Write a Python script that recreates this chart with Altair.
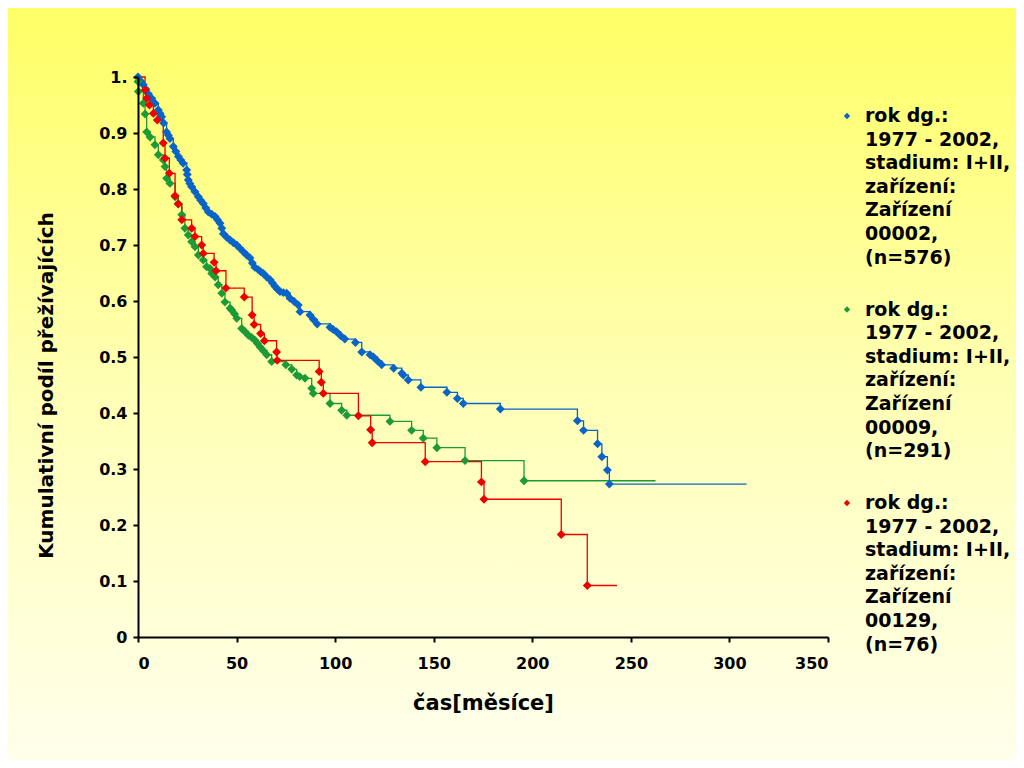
import altair as alt
import pandas as pd

series_names = [
    "\u00a0rok dg.:|1977 - 2002,|stadium: I+II,|zařízení:|Zařízení|00002,|(n=576)",
    "\u00a0rok dg.:|1977 - 2002,|stadium: I+II,|zařízení:|Zařízení|00009,|(n=291)",
    "\u00a0rok dg.:|1977 - 2002,|stadium: I+II,|zařízení:|Zařízení|00129,|(n=76)",
]
colors = ["#0A64C8", "#1C9A38", "#EE0000"]

x_ticks = [0, 50, 100, 150, 200, 250, 300, 350]
y_ticks = [0, 0.1, 0.2, 0.3, 0.4, 0.5, 0.6, 0.7, 0.8, 0.9, 1.0]

# series 1 (blue, Zařízení 00002) – event times [months] and survival
blue_t = [0, 1.3, 2.7, 4.0, 5.2, 6.9, 8.6, 10.3, 11.2, 12.0, 13.0, 14.5, 15.4, 16.2, 17.9,
          19.2, 20.5, 21.7, 22.9, 24.7, 25.0, 25.5, 26.3, 27.2, 28.9, 30.6, 31.8, 33.1,
          34.4, 35.7, 37.4, 39.1, 40.3, 41.6, 42.5, 43.3, 45.0, 46.7, 48.4, 50.1, 51.7,
          53.4, 55.1, 56.8, 58.0, 59.3, 61.0, 62.3, 63.6, 65.3, 67.0, 68.2, 69.5, 70.8,
          72.0, 73.7, 75.4, 77.1, 79.2, 81.3, 82.2, 87.2, 89.0, 90.9, 97.4, 99.0, 100.7,
          102.8, 104.9, 110.3, 113.5, 117.7, 119.4, 121.5, 123.6, 129.7, 133.8, 134.6,
          137.1, 143.5, 156.7, 162.0, 165.0, 183.8, 222.9, 226.0, 233.1, 235.3, 238.1, 239.1]
blue_s = [1.0, 0.993, 0.986, 0.978, 0.970, 0.962, 0.953, 0.941, 0.935, 0.929, 0.918, 0.902,
          0.896, 0.890, 0.876, 0.867, 0.858, 0.852, 0.846, 0.834, 0.826, 0.816, 0.810, 0.804,
          0.795, 0.786, 0.780, 0.774, 0.766, 0.759, 0.755, 0.751, 0.745, 0.739, 0.730, 0.720,
          0.714, 0.709, 0.704, 0.700, 0.694, 0.688, 0.682, 0.677, 0.668, 0.660, 0.656, 0.652,
          0.649, 0.643, 0.638, 0.632, 0.626, 0.621, 0.617, 0.615, 0.614, 0.605, 0.599, 0.593,
          0.581, 0.575, 0.567, 0.559, 0.553, 0.549, 0.545, 0.538, 0.532, 0.526, 0.509, 0.504,
          0.500, 0.493, 0.486, 0.480, 0.471, 0.468, 0.459, 0.446, 0.437, 0.426, 0.417, 0.407,
          0.386, 0.369, 0.345, 0.322, 0.298, 0.273]
blue_end = 308.7

# series 2 (green, Zařízení 00009)
green_t = [0, 0.2, 2.7, 3.6, 4.4, 6.1, 8.6, 10.3, 12.8, 13.7, 14.5, 16.2, 18.8, 20.4, 22.2,
           23.8, 25.5, 27.2, 28.9, 30.6, 33.1, 34.8, 36.5, 37.4, 39.1, 40.7, 42.5, 44.1,
           46.7, 47.5, 49.0, 50.1, 52.6, 54.3, 56.0, 57.6, 59.3, 60.6, 61.9, 63.6, 65.3,
           67.8, 75.0, 78.0, 80.5, 82.0, 84.7, 88.1, 88.9, 97.4, 103.3, 105.9, 127.8, 138.8,
           144.7, 151.6, 165.9, 195.8]
green_s = [0.992, 0.974, 0.953, 0.934, 0.902, 0.893, 0.879, 0.861, 0.852, 0.840, 0.819, 0.810,
           0.786, 0.774, 0.754, 0.730, 0.718, 0.706, 0.697, 0.682, 0.673, 0.661, 0.658, 0.649,
           0.643, 0.629, 0.614, 0.598, 0.587, 0.584, 0.577, 0.569, 0.551, 0.545, 0.539, 0.535,
           0.530, 0.524, 0.518, 0.511, 0.504, 0.492, 0.486, 0.478, 0.468, 0.465, 0.462, 0.444,
           0.435, 0.417, 0.405, 0.396, 0.385, 0.369, 0.355, 0.338, 0.315, 0.279]
green_end = 262.5

# series 3 (red, Zařízení 00129)
red_t = [3.6, 4.4, 5.8, 7.8, 9.8, 12.8, 13.7, 15.9, 18.8, 20.4, 22.2, 27.2, 28.9, 32.3,
         33.1, 38.6, 39.6, 44.6, 53.9, 57.9, 58.9, 62.2, 64.1, 70.3, 70.6, 91.9, 93.0, 94.0,
         111.8, 118.0, 118.8, 145.7, 174.2, 175.5, 214.7, 227.9]
red_s = [0.977, 0.962, 0.950, 0.935, 0.923, 0.882, 0.855, 0.828, 0.788, 0.773, 0.745,
         0.730, 0.715, 0.700, 0.685, 0.669, 0.654, 0.623, 0.607, 0.575, 0.558, 0.542, 0.529,
         0.509, 0.494, 0.474, 0.455, 0.435, 0.395, 0.370, 0.347, 0.313, 0.277, 0.246, 0.183,
         0.092]
red_end = 243.0

rows = []
for name, ts, ss, end in [
    (series_names[0], blue_t, blue_s, blue_end),
    (series_names[1], green_t, green_s, green_end),
    (series_names[2], red_t, red_s, red_end),
]:
    if ts[0] > 0 or ss[0] < 1.0:
        rows.append({"series": name, "line_series": name, "t": 0, "s": 1.0, "marker": False})
    for t, s in zip(ts, ss):
        rows.append({"series": name, "line_series": name, "t": t, "s": s, "marker": True})
    rows.append({"series": name, "line_series": name, "t": end, "s": ss[-1], "marker": False})
df = pd.DataFrame(rows)

FONT = "DejaVu Sans"

x_enc = alt.X(
    "t:Q",
    scale=alt.Scale(domain=[0, 350], nice=False),
    axis=alt.Axis(
        values=x_ticks, title="čas[měsíce]", titleFontSize=21, titleFont=FONT,
        titleFontWeight="bold", titleColor="black", titleX=345, titleY=66,
        titleBaseline="middle", labelPadding=13, zindex=1,
    ),
)
y_enc = alt.Y(
    "s:Q",
    scale=alt.Scale(domain=[0, 1], nice=False),
    axis=alt.Axis(
        values=y_ticks, title="Kumulativní podíl přežívajících",
        labelExpr="datum.value == 1 ? '1.' : format(datum.value, '.1~f')",
        titleFontSize=20, titleFont=FONT, titleFontWeight="bold", titleColor="black",
        titleAngle=270, titleX=-92, titleY=308, titleAlign="center",
        titleBaseline="middle", labelPadding=6, zindex=1,
    ),
)

gradient = alt.Gradient(
    gradient="linear",
    stops=[
        alt.GradientStop(color="#FFFF66", offset=0),
        alt.GradientStop(color="#FFFFB4", offset=0.5),
        alt.GradientStop(color="#FFFFEC", offset=1),
    ],
    x1=0, x2=0, y1=0, y2=1,
)

one = pd.DataFrame({"k": [0]})

bg = alt.Chart(one).mark_rect(fill=gradient, clip=False).encode(
    x=alt.value(-130), x2=alt.value(878), y=alt.value(-69), y2=alt.value(683)
)

lines = alt.Chart(df).mark_line(interpolate="step-after", strokeWidth=1.3).encode(
    x=x_enc,
    y=y_enc,
    stroke=alt.Stroke("line_series:N", scale=alt.Scale(domain=series_names, range=colors),
                      legend=None),
)

points = alt.Chart(df).transform_filter("datum.marker").mark_point(
    shape="diamond", filled=True, size=80, opacity=1
).encode(
    x=x_enc,
    y=y_enc,
    color=alt.Color("series:N", scale=alt.Scale(domain=series_names, range=colors),
                    legend=None),
)

# legend drawn as text + symbol layers, one entry per series
legend_layers = []
ENTRY_STEP = 193.5
for i, (name, col) in enumerate(zip(series_names, colors)):
    legend_layers.append(
        alt.Chart(one).mark_point(shape="diamond", filled=True, size=40, color=col,
                                  opacity=1, clip=False).encode(
            x=alt.value(709), y=alt.value(39 + i * ENTRY_STEP)
        )
    )
    legend_layers.append(
        alt.Chart(one).mark_text(
            align="left", baseline="alphabetic", lineBreak="|", lineHeight=23.6,
            font=FONT, fontWeight="bold", fontSize=19, color="black", clip=False,
        ).encode(
            x=alt.value(727), y=alt.value(45 + i * ENTRY_STEP), text=alt.value(name)
        )
    )

chart = alt.layer(bg, lines, points, *legend_layers).properties(
    width=690,
    height=560,
    autosize=alt.AutoSizeParams(type="none"),
    padding={"left": 130, "top": 69, "right": 188, "bottom": 123},
    background="#FFFFB4",
).configure_view(stroke=None).configure_axis(
    grid=False, domainColor="black", domainWidth=2, tickColor="black", tickWidth=2,
    tickSize=5, labelFont=FONT, labelFontWeight="bold", labelFontSize=16,
    labelColor="black",
)

chart.save("out.html", embed_options={"renderer": "svg", "actions": False})
